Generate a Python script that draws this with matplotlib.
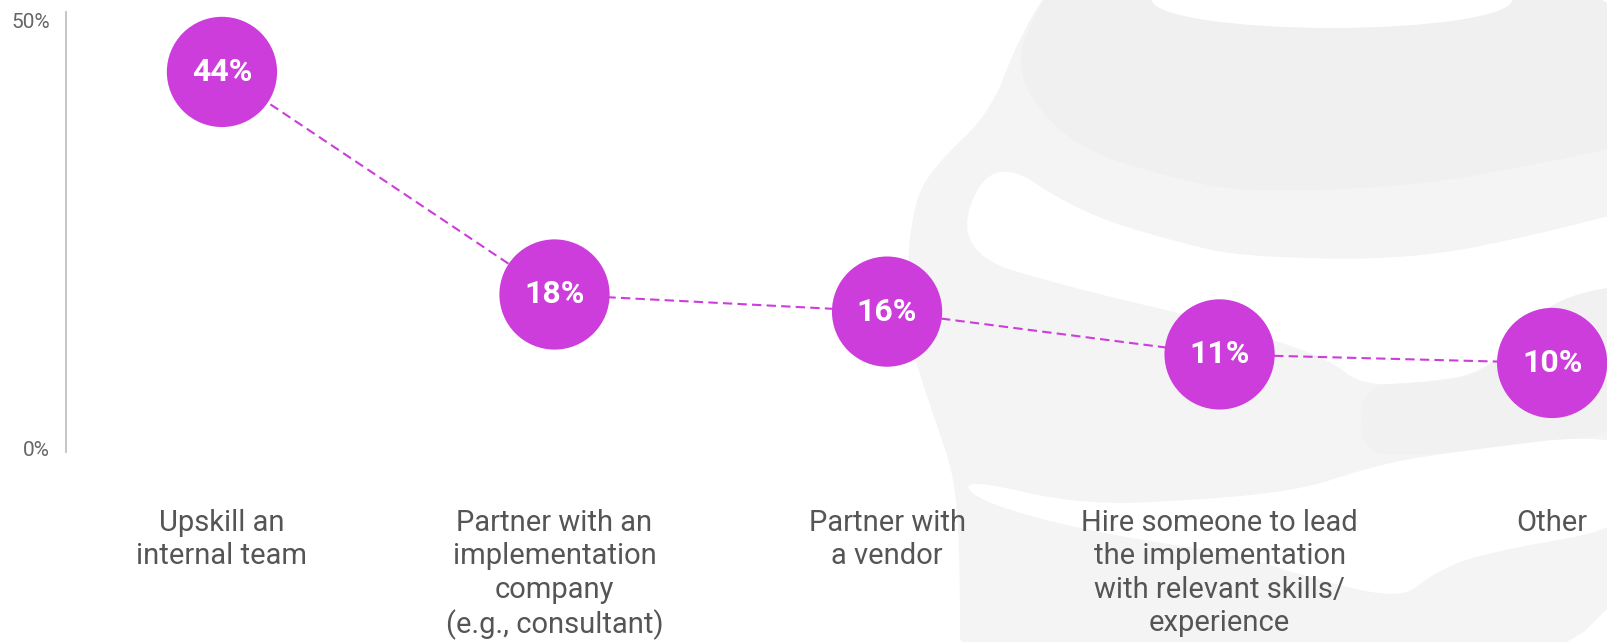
import matplotlib
matplotlib.use("Agg")
import matplotlib.pyplot as plt
from matplotlib.patches import Ellipse, Polygon
from matplotlib.transforms import blended_transform_factory

plt.rcParams['font.family'] = ['Roboto', 'DejaVu Sans']

categories = ["Upskill an\ninternal team",
              "Partner with an\nimplementation\ncompany\n(e.g., consultant)",
              "Partner with\na vendor",
              "Hire someone to lead\nthe implementation\nwith relevant skills/\nexperience",
              "Other"]
values = [44, 18, 16, 11, 10]
value_labels = ["44%", "18%", "16%", "11%", "10%"]
yticks = [0, 50]
ytick_labels = ["0%", "50%"]

purple = '#cc3ddb'


def smooth(pts, n=3):
    # chaikin corner cutting so the logo shapes look rounded
    for _ in range(n):
        new = []
        for k in range(len(pts)):
            p = pts[k]
            q = pts[(k + 1) % len(pts)]
            new.append((0.75 * p[0] + 0.25 * q[0], 0.75 * p[1] + 0.25 * q[1]))
            new.append((0.25 * p[0] + 0.75 * q[0], 0.25 * p[1] + 0.75 * q[1]))
        pts = new
    return pts


fig = plt.figure(figsize=(16.08, 6.42), dpi=100)

# faint logo in the background (decoration, pixel coords)
bg = fig.add_axes([0, 0, 1, 1], zorder=0)
bg.set_xlim(0, 1608)
bg.set_ylim(642, 0)
bg.axis('off')
body = [(1060, -30), (1018, 40), (990, 113), (940, 160), (913, 200), (905, 300),
        (913, 354), (935, 420), (955, 478), (960, 560), (960, 700), (1700, 700), (1700, -30)]
bg.add_patch(Polygon(smooth(body), closed=True, color='#f4f4f4', lw=0))
gap_a = [(990, 153), (1080, 213), (1180, 243), (1244, 257), (1411, 260), (1544, 233), (1650, 205),
         (1650, 280), (1544, 300), (1490, 372), (1420, 383), (1361, 385), (1330, 360),
         (1260, 335), (1180, 313), (1080, 290), (953, 253)]
bg.add_patch(Polygon(smooth(gap_a), closed=True, color='white', lw=0))
band3 = [(1361, 385), (1420, 383), (1490, 375), (1544, 300), (1650, 280), (1650, 431),
         (1500, 448), (1420, 455), (1361, 454)]
bg.add_patch(Polygon(smooth(band3), closed=True, color='#f1f1f1', lw=0))
gap_b = [(963, 478), (1080, 505), (1200, 500), (1300, 490), (1361, 470), (1420, 456), (1650, 428),
         (1650, 524), (1477, 554), (1431, 575), (1400, 600), (1300, 575), (1244, 556),
         (1080, 530), (975, 500)]
bg.add_patch(Polygon(smooth(gap_b), closed=True, color='white', lw=0))
top_band = [(1060, -30), (1030, 25), (1018, 60), (1030, 100), (1080, 150), (1180, 180), (1244, 192),
            (1411, 187), (1544, 163), (1650, 140), (1650, -30)]
bg.add_patch(Polygon(smooth(top_band), closed=True, color='#f0f0f0', lw=0))
bg.add_patch(Ellipse((1332, 0), 360, 56, color='white', lw=0))

ax = fig.add_axes([66 / 1608, 190 / 642, 1542 / 1608, 440 / 642], zorder=1)
ax.patch.set_alpha(0)
x = list(range(len(values)))
ax.plot(x, values, color=purple, lw=1.5, ls=(0, (4.5, 2.5)), zorder=2)
ax.scatter(x, values, s=6300, color=purple, edgecolors='none', zorder=3, clip_on=False)
for i, v in enumerate(values):
    ax.text(i, v, value_labels[i], ha='center', va='center', color='white',
            fontsize=23, fontweight='bold', zorder=4)

trans = blended_transform_factory(ax.transData, ax.transAxes)
for i, c in enumerate(categories):
    ax.text(i, -0.13, c, transform=trans, ha='center', va='top',
            fontsize=21, color='#555555', linespacing=1.24)

ax.set_xlim(-0.469, 4.168)
ax.set_ylim(-0.4, 51)
ax.set_yticks(yticks)
ax.set_yticklabels(ytick_labels, fontsize=15, color='#666666')
ax.tick_params(axis='y', length=0, pad=11.5)
ax.set_xticks([])
for s in ['top', 'right', 'bottom']:
    ax.spines[s].set_visible(False)
ax.spines['left'].set_color('#bbbbbb')
ax.spines['left'].set_linewidth(1.2)

fig.savefig('out.png', dpi=100)
